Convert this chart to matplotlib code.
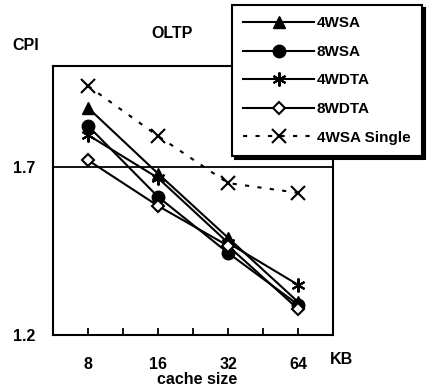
import matplotlib.pyplot as plt
import numpy as np

plt.rcParams['font.family'] = ['Liberation Sans', 'DejaVu Sans']
plt.rcParams['font.weight'] = 'bold'

sizes = ['8', '16', '32', '64']
wsa4 = [1.876, 1.68, 1.489, 1.298]
wsa8 = [1.822, 1.611, 1.444, 1.29]
wdta4 = [1.795, 1.667, 1.474, 1.349]
wdta8 = [1.72, 1.584, 1.465, 1.277]
wsa4_single = [1.941, 1.792, 1.652, 1.623]

x = np.arange(len(sizes))

fig = plt.figure(figsize=(4.31, 3.89), dpi=100)
ax = fig.add_axes([0.123, 0.139, 0.650, 0.691])

l1, = ax.plot(x, wsa4, color='black', lw=1.5, marker='^', ms=9)
l2, = ax.plot(x, wsa8, color='black', lw=1.5, marker='o', ms=9)
l3, = ax.plot(x, wdta4, color='black', lw=1.5, marker=(6, 2, 0), ms=10, mew=1.5)
l4, = ax.plot(x, wdta8, color='black', lw=1.5, marker='D', ms=6.5,
              mfc='white', mew=1.5)
l5, = ax.plot(x, wsa4_single, color='black', lw=1.5, ls=(0, (2, 4)),
              marker='x', ms=10, mew=1.5)

ax.axhline(1.7, color='black', lw=1.3)

ax.set_xlim(-0.5, 3.5)
ax.set_ylim(1.2, 2.0)
ax.set_yticks([1.2, 1.7])
ax.set_yticklabels(['1.2', '1.7'])
ax.tick_params(axis='y', length=0, pad=13, labelsize=11.5)
ax.set_xticks(x)
ax.set_xticklabels(sizes)
ax.set_xticks(np.arange(0.5, 3, 1), minor=True)
ax.tick_params(axis='x', which='both', direction='in', length=5, width=1.3,
               pad=16, labelsize=11.5)
for s in ax.spines.values():
    s.set_linewidth(1.5)

fig.text(12 / 431, 1 - 45 / 389, 'CPI', fontsize=11.5, ha='left', va='center')
fig.text(172 / 431, 1 - 33 / 389, 'OLTP', fontsize=11.5, ha='center',
         va='center')
fig.text(330 / 431, 1 - 360 / 389, 'KB', fontsize=11.5, ha='left', va='center')
fig.text(197 / 431, 1 - 380 / 389, 'cache size', fontsize=11.5, ha='center',
         va='center')

leg = fig.legend([l1, l2, l3, l4, l5],
                 ['4WSA', '8WSA', '4WDTA', '8WDTA', '4WSA Single'],
                 loc='upper left', bbox_to_anchor=(232 / 431, 1 - 5 / 389),
                 borderaxespad=0, fontsize=11, handlelength=4.6,
                 labelspacing=0.95, handletextpad=0.2, borderpad=0.75,
                 fancybox=False, shadow={'color': 'black', 'alpha': 1},
                 framealpha=1, edgecolor='black')
leg.get_frame().set_linewidth(1.5)

fig.savefig('out.png', dpi=100)
